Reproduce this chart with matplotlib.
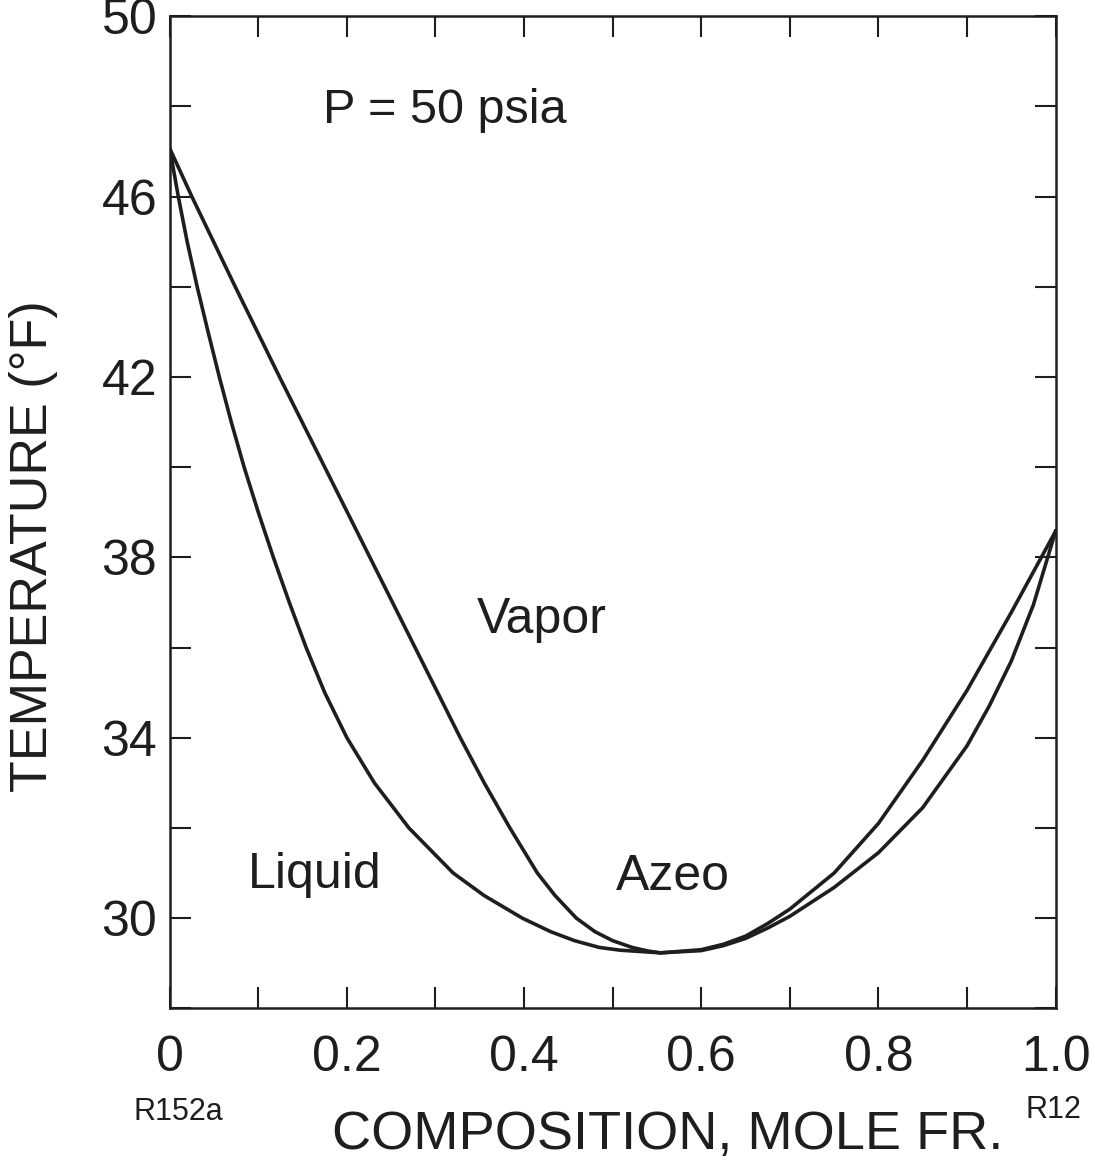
import matplotlib.pyplot as plt

plt.rcParams['font.family'] = ['Liberation Sans', 'DejaVu Sans']

# bubble (liquid) curve
x_liq = [0.000, 0.0097, 0.0197, 0.031, 0.0433, 0.056, 0.0695, 0.084, 0.100, 0.117,
         0.135, 0.154, 0.175, 0.200, 0.231, 0.270, 0.320, 0.355, 0.398, 0.430,
         0.457, 0.485, 0.508, 0.554, 0.600, 0.625, 0.650, 0.675, 0.700, 0.750,
         0.800, 0.850, 0.900, 0.925, 0.950, 0.975, 1.000]
T_liq = [47.07, 46.00, 45.00, 44.00, 43.00, 42.00, 41.00, 40.00, 39.00, 38.00,
         37.00, 36.00, 35.00, 34.00, 33.00, 32.00, 31.00, 30.50, 30.00, 29.70,
         29.50, 29.35, 29.29, 29.23, 29.28, 29.39, 29.55, 29.78, 30.04, 30.68,
         31.45, 32.45, 33.82, 34.70, 35.70, 36.95, 38.58]

# dew (vapor) curve
x_vap = [0.000, 0.025, 0.074, 0.124, 0.175, 0.226, 0.277, 0.328, 0.355, 0.384,
         0.415, 0.435, 0.459, 0.480, 0.500, 0.522, 0.540, 0.554, 0.600, 0.625,
         0.650, 0.675, 0.700, 0.750, 0.800, 0.850, 0.900, 0.950, 1.000]
T_vap = [47.07, 46.00, 44.00, 42.00, 40.00, 38.00, 36.00, 34.00, 33.00, 32.00,
         31.00, 30.50, 30.00, 29.70, 29.50, 29.35, 29.27, 29.23, 29.30, 29.42,
         29.60, 29.88, 30.20, 31.00, 32.10, 33.50, 35.05, 36.78, 38.58]

xticks = [0.0, 0.1, 0.2, 0.3, 0.4, 0.5, 0.6, 0.7, 0.8, 0.9, 1.0]
xlabels = ['0', '', '0.2', '', '0.4', '', '0.6', '', '0.8', '', '1.0']
yticks = [28, 30, 32, 34, 36, 38, 40, 42, 44, 46, 48, 50]
ylabels = ['', '30', '', '34', '', '38', '', '42', '', '46', '', '50']

ink = '#1e1e1e'

fig = plt.figure(figsize=(10.95, 11.63), dpi=100)
ax = fig.add_axes([0.155, 0.133, 0.809, 0.853])

ax.plot(x_liq, T_liq, color=ink, lw=2.6, solid_joinstyle='round')
ax.plot(x_vap, T_vap, color=ink, lw=2.6, solid_joinstyle='round')

ax.set_xlim(0, 1.0)
ax.set_ylim(28, 50)
ax.set_xticks(xticks, xlabels)
ax.set_yticks(yticks, ylabels)
ax.tick_params(axis='both', which='major', direction='in', length=15, width=1.5,
               color=ink, top=True, right=True, labelsize=36, labelcolor=ink)
ax.tick_params(axis='x', pad=19)
ax.tick_params(axis='y', pad=9)
for s in ax.spines.values():
    s.set_linewidth(1.8)
    s.set_color(ink)

ax.text(0.311, 47.9, 'P = 50 psia', fontsize=35, color=ink, ha='center', va='center')
ax.text(0.42, 36.62, 'Vapor', fontsize=36, color=ink, ha='center', va='center')
ax.text(0.164, 30.96, 'Liquid', fontsize=36, color=ink, ha='center', va='center')
ax.text(0.568, 30.91, 'Azeo', fontsize=36, color=ink, ha='center', va='center')

fig.text(0.031, 0.53, 'TEMPERATURE (°F)', rotation=90, fontsize=37.5, color=ink,
         ha='center', va='center')
fig.text(0.61, 0.024, 'COMPOSITION, MOLE FR.', fontsize=39, color=ink,
         ha='center', va='center')
fig.text(0.163, 0.044, 'R152a', fontsize=22, color=ink, ha='center', va='center')
fig.text(0.962, 0.046, 'R12', fontsize=22, color=ink, ha='center', va='center')

fig.savefig('out.png', dpi=100)
